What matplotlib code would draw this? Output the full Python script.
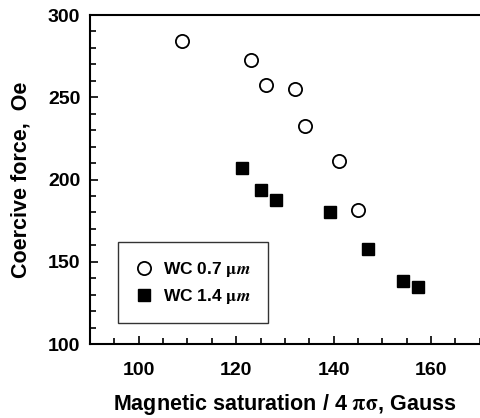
import numpy as np
import matplotlib
matplotlib.use("Agg")
from matplotlib import pyplot as plt
from matplotlib.ticker import MultipleLocator

# WC 0.7 um (open circles)
ms_07 = [108.8, 123.1, 126.1, 132.1, 134.1, 141.1, 145.1]
hc_07 = [284.2, 272.7, 257.7, 254.9, 232.7, 211.2, 181.5]

# WC 1.4 um (filled squares)
ms_14 = [121.1, 125.2, 128.1, 139.2, 147.1, 154.3, 157.4]
hc_14 = [206.9, 193.7, 187.6, 180.5, 157.6, 138.6, 134.6]

xticks = [100, 120, 140, 160]
yticks = [100, 150, 200, 250, 300]

plt.rcParams["font.family"] = ["Liberation Sans", "DejaVu Sans"]
plt.rcParams["font.weight"] = "bold"
plt.rcParams["mathtext.fontset"] = "stix"


def main():
    fig = plt.figure(figsize=(4.8, 4.18), dpi=100)
    ax = fig.add_axes([0.1875, 0.177, 0.812, 0.787])

    ax.plot(ms_07, hc_07, "o", ms=9.5, mfc="white", mec="black", mew=1.3,
            label=r"WC 0.7 $\mathrm{\mu}m$")
    ax.plot(ms_14, hc_14, "s", ms=8.8, mfc="black", mec="black",
            label=r"WC 1.4 $\mathrm{\mu}m$")

    ax.set_xlim(90, 170)
    ax.set_ylim(100, 300)
    ax.set_xticks(xticks, labels=[str(v) for v in xticks],
                  fontweight="bold", fontsize=14)
    ax.set_yticks(yticks, labels=[str(v) for v in yticks],
                  fontweight="bold", fontsize=14)
    ax.xaxis.set_minor_locator(MultipleLocator(5))
    ax.yaxis.set_minor_locator(MultipleLocator(10))
    ax.tick_params(which="both", direction="in", top=False, right=False,
                   width=1.2)
    ax.tick_params(which="major", length=6)
    ax.tick_params(axis="x", which="major", pad=13)
    ax.tick_params(axis="y", which="major", pad=7)
    ax.tick_params(which="minor", length=4)

    ax.spines["right"].set_visible(False)
    for s in ("left", "bottom", "top"):
        ax.spines[s].set_linewidth(1.5)

    ax.set_xlabel(r"Magnetic saturation / 4 $\mathrm{\pi\sigma}$, Gauss",
                  fontsize=15.5, fontweight="bold", labelpad=9)
    ax.set_ylabel("Coercive force,  Oe", fontsize=15.5, fontweight="bold",
                  labelpad=12)

    leg = ax.legend(loc="lower left", bbox_to_anchor=(0.072, 0.064),
                    frameon=True, fancybox=False, edgecolor="black",
                    prop={"size": 12.5, "weight": "bold"},
                    handletextpad=0.6, borderpad=1.0, labelspacing=0.45,
                    handlelength=1.0, borderaxespad=0)
    leg.get_frame().set_linewidth(1.0)

    fig.savefig("out.png", dpi=100)


if __name__ == "__main__":
    main()
